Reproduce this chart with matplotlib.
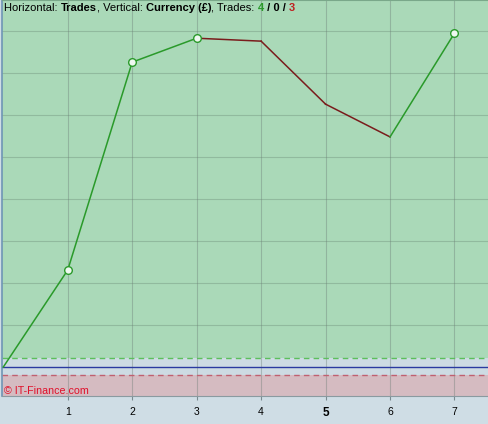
import matplotlib
matplotlib.use("Agg")
import matplotlib.pyplot as plt

# Data (equity in grid units after each trade)
trades = [0, 1, 2, 3, 4, 5, 6, 7]
equity = [0, 231, 726, 783, 776, 626, 548, 795]
tick_labels = ["1", "2", "3", "4", "5", "6", "7"]
wins, even, losses = 4, 0, 3

green_bg = "#aad9b8"
mid_bg = "#cddbe3"
red_bg = "#d5bbc1"
fig_bg = "#cfdde5"
up_col = "#2a9a2a"
down_col = "#7a1c1c"

W, H = 488, 424
fig = plt.figure(figsize=(W / 100, H / 100), dpi=100, facecolor=fig_bg)
ax = fig.add_axes([2 / W, 28 / H, 486 / W, 396 / H])
ymin, ymax = -69, 874
ax.set_xlim(-0.02, 7.52)
ax.set_ylim(ymin, ymax)
ax.set_facecolor(mid_bg)

upper_th, lower_th = 21, -19
ax.axhspan(upper_th, ymax, color=green_bg, zorder=0, lw=0)
ax.axhspan(ymin, lower_th, color=red_bg, zorder=0, lw=0)
ax.axhline(upper_th, color="#5cbf5c", lw=1, ls=(0, (4, 3)), zorder=1)
ax.axhline(lower_th, color="#c06070", lw=1, ls=(0, (4, 3)), zorder=1)
ax.axhline(0, color="#2a3aa0", lw=1, zorder=1)

for y in range(100, 900, 100):
    ax.axhline(y, color="#6a8a74", lw=0.8, alpha=0.38, zorder=0.5)
for x in range(1, 8):
    ax.axvline(x, color="#6a7a74", lw=0.8, alpha=0.38, zorder=0.5)

for i in range(1, len(trades)):
    c = up_col if equity[i] >= equity[i - 1] else down_col
    ax.plot(trades[i - 1:i + 1], equity[i - 1:i + 1], color=c, lw=1.1, zorder=3)
    if equity[i] >= equity[i - 1]:
        ax.plot(trades[i], equity[i], "o", ms=5.5, mfc="#eef8f0", mec=up_col,
                mew=1.0, zorder=4)

ax.set_xticks(range(1, 8))
ax.set_xticklabels(tick_labels, fontsize=7.5, family="Liberation Sans")
for lbl in ax.get_xticklabels():
    if lbl.get_text() == "5":
        lbl.set_fontweight("bold")
        lbl.set_fontsize(8.5)
ax.tick_params(axis="x", length=3, color="#7a8a90", pad=5)
ax.set_yticks([])
ax.spines["right"].set_visible(False)
ax.spines["left"].set_color("#6f95b5")
ax.spines["left"].set_linewidth(1.2)
ax.spines["bottom"].set_color("#8a9aa0")
ax.spines["top"].set_color("#7aa88a")

# Title built from pieces
fig.canvas.draw()
renderer = fig.canvas.get_renderer()
pieces = [("Horizontal: ", "normal", "black"), ("Trades", "bold", "black"),
          (", Vertical: ", "normal", "black"), ("Currency (£)", "bold", "black"),
          (", Trades: ", "normal", "black"), (str(wins), "bold", "#2a9a2a"),
          (f" / {even} / ", "bold", "black"), (str(losses), "bold", "#c02020")]
fs = 8.0


def adv(s, wt):
    t1 = fig.text(0, 0, s + "|", fontsize=fs, fontweight=wt, family="Liberation Sans")
    t2 = fig.text(0, 0, "|", fontsize=fs, fontweight=wt, family="Liberation Sans")
    w = t1.get_window_extent(renderer).width - t2.get_window_extent(renderer).width
    t1.remove()
    t2.remove()
    return w


x = 4
for txt, wt, col in pieces:
    fig.text(x / W, 1 - 8 / H, txt, fontsize=fs, fontweight=wt, color=col,
             family="Liberation Sans", va="center", ha="left")
    x += adv(txt, wt)

fig.text(4 / W, 1 - 391 / H, "© IT-Finance.com", fontsize=7.7, color="#e0102a",
         family="Liberation Sans", va="center", ha="left")

fig.savefig("out.png", dpi=100, facecolor=fig_bg)
